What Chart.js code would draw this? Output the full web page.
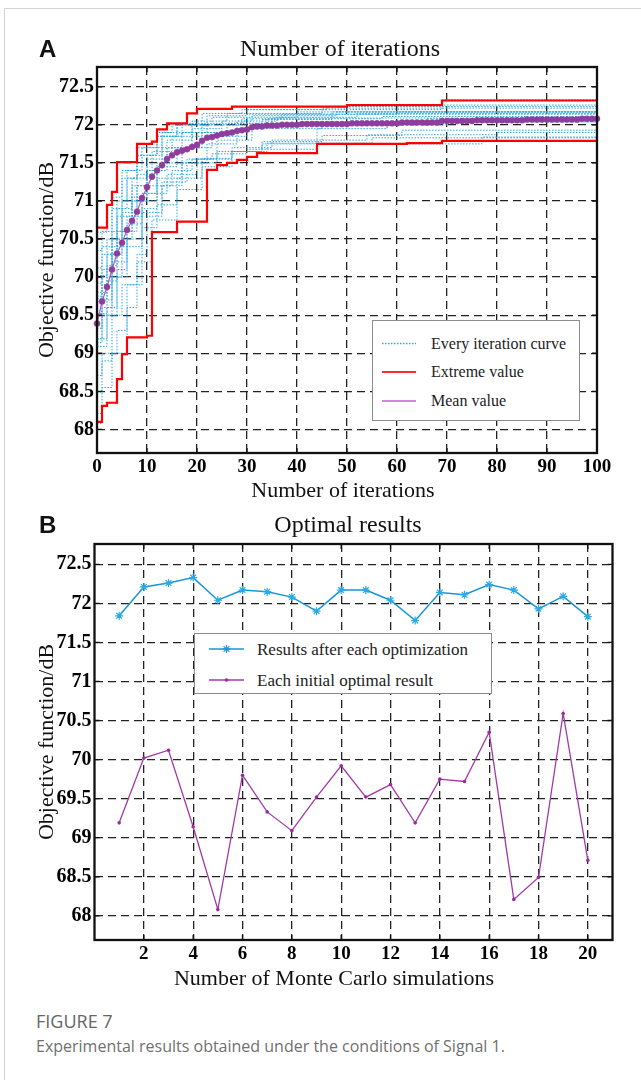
<!DOCTYPE html>
<html><head><meta charset="utf-8">
<script src="https://cdn.jsdelivr.net/npm/chart.js@4.4.1/dist/chart.umd.min.js"></script>
<style>
html,body{margin:0;padding:0;background:#fff;}
#page{position:relative;width:641px;height:1080px;overflow:hidden;background:#fff;}
.card{position:absolute;left:4px;top:8px;width:700px;height:1100px;border-left:1px solid #d4d4d4;border-top:1px solid #d4d4d4;}
canvas{position:absolute;left:0;}
.t{position:absolute;white-space:nowrap;font-family:"Liberation Serif","Times New Roman",serif;color:#111;line-height:1;transform:translate(-50%,-50%);}
.letter{position:absolute;font-family:"Liberation Sans",Arial,sans-serif;font-weight:bold;font-size:24px;line-height:1;color:#111;}
.legend{position:absolute;border:1px solid #8c8c8c;background:#fff;box-sizing:border-box;}
.lrow{position:absolute;left:0;height:0;}
.ltext{position:absolute;white-space:nowrap;font-family:"Liberation Serif","Times New Roman",serif;color:#222;line-height:1;transform:translateY(-50%);}
.sample{position:absolute;}
.cap1{position:absolute;left:36px;top:1010px;font-family:"Open Sans",sans-serif;font-size:18px;line-height:22px;color:#666;}
.cap2{position:absolute;left:36px;top:1036px;font-family:"Open Sans",sans-serif;font-size:16px;line-height:20px;color:#707070;}
</style>
</head>
<body>
<div id="page">
  <div class="card"></div>
  <canvas id="chartA" width="641" height="510" style="top:0px"></canvas>
  <canvas id="chartB" width="641" height="490" style="top:510px"></canvas>

  <div class="letter" style="left:39px;top:37px;">A</div>
  <div class="t" style="left:340px;top:48px;font-size:24px;">Number of iterations</div>
  <div class="t" style="left:343px;top:490px;font-size:22px;">Number of iterations</div>

  <div class="letter" style="left:39px;top:513px;">B</div>
  <div class="t" style="left:348px;top:524px;font-size:24px;">Optimal results</div>
  <div class="t" style="left:334px;top:978px;font-size:22px;">Number of Monte Carlo simulations</div>

  <div class="legend" style="left:372px;top:320px;width:208px;height:101px;">
    <svg class="sample" style="left:8px;top:0px" width="36" height="100">
      <line x1="1" y1="22.5" x2="35" y2="22.5" stroke="#2aa7e0" stroke-width="1.4" stroke-dasharray="1.5,1.5"/>
      <line x1="1" y1="51" x2="35" y2="51" stroke="#ff2a2a" stroke-width="2"/>
      <line x1="1" y1="80" x2="35" y2="80" stroke="#c060c8" stroke-width="1.6"/>
    </svg>
    <div class="ltext" style="left:58px;top:22.5px;font-size:16px;">Every iteration curve</div>
    <div class="ltext" style="left:58px;top:51px;font-size:16px;">Extreme value</div>
    <div class="ltext" style="left:58px;top:80px;font-size:16px;">Mean value</div>
  </div>

  <div class="legend" style="left:194px;top:633px;width:298px;height:61px;">
    <svg class="sample" style="left:13px;top:0px" width="38" height="60">
      <line x1="1" y1="15" x2="36" y2="15" stroke="#1a96d8" stroke-width="1.5"/>
      <g stroke="#1a96d8" stroke-width="1.2">
        <line x1="14.5" y1="15" x2="22.5" y2="15"/><line x1="18.5" y1="11" x2="18.5" y2="19"/>
        <line x1="15.6" y1="12.1" x2="21.4" y2="17.9"/><line x1="15.6" y1="17.9" x2="21.4" y2="12.1"/>
      </g>
      <line x1="1" y1="46" x2="36" y2="46" stroke="#a03aa6" stroke-width="1.3"/>
      <circle cx="18.5" cy="46" r="1.8" fill="#9a2a9e"/>
    </svg>
    <div class="ltext" style="left:62px;top:15px;font-size:17px;">Results after each optimization</div>
    <div class="ltext" style="left:62px;top:46px;font-size:17px;">Each initial optimal result</div>
  </div>

  <div class="cap1">FIGURE 7</div>
  <div class="cap2">Experimental results obtained under the conditions of Signal 1.</div>
</div>

<script>
// ---------- Panel A data ----------
const xTicksA = [0, 10, 20, 30, 40, 50, 60, 70, 80, 90, 100];
const yTicks = [68, 68.5, 69, 69.5, 70, 70.5, 71, 71.5, 72, 72.5];

const iterations = Array.from({length: 101}, (_, i) => i);
const meanValue = [
  69.39, 69.68, 69.87, 70.10, 70.31, 70.45, 70.62, 70.74, 70.86, 71.04,
  71.18, 71.32, 71.40, 71.47, 71.55, 71.60, 71.64, 71.66, 71.68, 71.71,
  71.74, 71.79, 71.83, 71.84, 71.86, 71.88, 71.89, 71.90, 71.92, 71.93,
  71.94, 71.97, 71.98, 71.98, 71.99, 71.99, 71.99, 72.00, 72.00, 72.00,
  72.00, 72.01, 72.01, 72.01, 72.01, 72.01, 72.01, 72.01, 72.01, 72.01,
  72.01, 72.02, 72.02, 72.02, 72.02, 72.02, 72.02, 72.02, 72.02, 72.02,
  72.02, 72.03, 72.03, 72.03, 72.03, 72.03, 72.03, 72.03, 72.03, 72.05,
  72.05, 72.05, 72.05, 72.05, 72.05, 72.05, 72.06, 72.06, 72.06, 72.06,
  72.06, 72.06, 72.06, 72.06, 72.06, 72.06, 72.07, 72.07, 72.07, 72.07,
  72.07, 72.07, 72.07, 72.07, 72.07, 72.07, 72.07, 72.08, 72.08, 72.08,
  72.08
];

// extreme value envelopes: [iteration where the step happens, value]
const extremeUpper = [[0,70.65],[2,70.95],[3,71.12],[4,71.51],[8,71.75],[11,71.78],[12,71.94],[14,72.02],[18,72.15],[20,72.21],[27,72.24],[50,72.26],[69,72.32],[100,72.32]];
const extremeLower = [[0,68.10],[1,68.31],[2,68.35],[4,68.66],[5,68.99],[6,69.21],[10,69.23],[11,70.59],[16,70.73],[22,71.41],[24,71.47],[26,71.50],[28,71.54],[30,71.58],[32,71.63],[44,71.75],[62,71.76],[69,71.79],[100,71.79]];

// every iteration curve (one per Monte Carlo run), step points [iteration, value]
const run01 = [[0,69.19],[1,69.5],[3,70.0],[5,70.6],[8,71.0],[12,71.3],[17,71.5],[24,71.65],[33,71.75],[77,71.84]];
const run02 = [[0,70.02],[2,70.5],[4,71.0],[6,71.4],[9,71.7],[13,71.9],[19,72.05],[26,72.15],[45,72.22]];
const run03 = [[0,70.12],[1,70.4],[3,70.9],[5,71.3],[8,71.6],[12,71.85],[16,72.0],[22,72.12],[30,72.2],[69,72.26]];
const run04 = [[0,69.14],[1,69.6],[3,70.3],[5,70.9],[7,71.3],[10,71.6],[13,71.85],[16,72.0],[18,72.15],[20,72.21],[27,72.24],[50,72.26],[69,72.33]];
const run05 = [[0,68.08],[1,68.31],[2,68.35],[4,68.66],[5,68.99],[6,69.21],[10,69.23],[11,70.59],[16,70.73],[22,71.41],[24,71.47],[26,71.50],[28,71.54],[30,71.58],[32,71.63],[44,71.95],[58,72.04]];
const run06 = [[0,69.80],[2,70.3],[4,70.8],[7,71.2],[10,71.55],[14,71.8],[19,71.95],[25,72.05],[31,72.12],[48,72.17]];
const run07 = [[0,69.33],[1,69.7],[3,70.2],[6,70.7],[9,71.1],[12,71.45],[16,71.7],[21,71.9],[28,72.05],[36,72.1],[52,72.15]];
const run08 = [[0,69.09],[2,69.5],[4,70.0],[6,70.4],[9,70.85],[13,71.25],[18,71.55],[24,71.8],[31,71.98],[41,72.04],[66,72.08]];
const run09 = [[0,69.52],[1,69.9],[3,70.4],[6,70.8],[9,71.1],[14,71.35],[20,71.55],[27,71.7],[35,71.8],[54,71.87],[80,71.90]];
const run10 = [[0,69.92],[1,70.3],[4,70.9],[6,71.3],[8,71.6],[12,71.85],[17,72.0],[23,72.1],[30,72.14],[60,72.17]];
const run11 = [[0,69.52],[2,69.95],[4,70.5],[7,71.0],[10,71.4],[13,71.7],[17,71.9],[22,72.0],[30,72.1],[40,72.17]];
const run12 = [[0,69.68],[1,70.0],[3,70.5],[5,70.85],[8,71.2],[12,71.5],[17,71.7],[23,71.85],[30,71.95],[45,72.0],[70,72.04]];
const run13 = [[0,69.19],[2,69.6],[4,70.1],[6,70.5],[9,70.9],[12,71.2],[15,71.4],[19,71.55],[23,71.62],[30,71.68],[44,71.75],[62,71.76],[69,71.78]];
const run14 = [[0,69.75],[1,70.1],[3,70.6],[5,71.0],[8,71.35],[11,71.65],[15,71.85],[21,72.0],[29,72.08],[37,72.14]];
const run15 = [[0,69.72],[2,70.15],[4,70.6],[7,71.05],[10,71.4],[14,71.7],[19,71.9],[26,72.02],[34,72.08],[57,72.11]];
const run16 = [[0,70.35],[1,70.6],[3,71.05],[5,71.4],[8,71.7],[12,71.9],[15,72.0],[21,72.15],[29,72.2],[46,72.24]];
const run17 = [[0,68.21],[1,68.9],[3,69.5],[5,69.9],[8,70.3],[10,70.8],[13,71.2],[17,71.5],[22,71.75],[28,71.95],[33,72.07],[47,72.17]];
const run18 = [[0,68.49],[1,68.55],[3,69.0],[6,69.6],[8,70.2],[11,70.75],[16,71.15],[21,71.45],[27,71.65],[33,71.78],[45,71.86],[61,71.93]];
const run19 = [[0,70.59],[2,70.95],[3,71.12],[4,71.51],[8,71.75],[11,71.78],[12,71.94],[14,72.02],[35,72.09]];
const run20 = [[0,68.71],[1,69.0],[4,69.3],[6,69.9],[9,70.65],[12,70.95],[16,71.3],[21,71.56],[27,71.65],[34,71.76],[55,71.83]];
const runs = [run01,run02,run03,run04,run05,run06,run07,run08,run09,run10,run11,run12,run13,run14,run15,run16,run17,run18,run19,run20];

// ---------- Panel B data ----------
const simulations = [1,2,3,4,5,6,7,8,9,10,11,12,13,14,15,16,17,18,19,20];
const xTicksB = [2,4,6,8,10,12,14,16,18,20];
const resultsAfterOptimization = [71.84,72.21,72.26,72.33,72.04,72.17,72.15,72.08,71.90,72.17,72.17,72.04,71.78,72.14,72.11,72.24,72.17,71.93,72.09,71.83];
const initialOptimalResults = [69.19,70.02,70.12,69.14,68.08,69.80,69.33,69.09,69.52,69.92,69.52,69.68,69.19,69.75,69.72,70.35,68.21,68.49,70.59,68.71];

// ---------- styling helpers ----------
const SERIF = '"Liberation Serif","Times New Roman",serif';
const tickFont = {family: SERIF, weight: 'bold', size: 20};
const Y_MIN = 67.69, Y_MAX = 72.76;

const frameTicks = {
  id: 'frameTicks',
  afterDraw(chart) {
    const {ctx, chartArea: a, scales} = chart;
    ctx.save();
    ctx.setLineDash([]);
    ctx.strokeStyle = '#111';
    ctx.lineWidth = 1.3;
    const L = 5;
    ctx.beginPath();
    scales.x.ticks.forEach(t => {
      const px = scales.x.getPixelForValue(t.value);
      ctx.moveTo(px, a.bottom); ctx.lineTo(px, a.bottom - L);
      ctx.moveTo(px, a.top); ctx.lineTo(px, a.top + L);
    });
    scales.y.ticks.forEach(t => {
      const py = scales.y.getPixelForValue(t.value);
      ctx.moveTo(a.left, py); ctx.lineTo(a.left + L, py);
      ctx.moveTo(a.right, py); ctx.lineTo(a.right - L, py);
    });
    ctx.stroke();
    ctx.lineWidth = 2.3;
    ctx.strokeRect(a.left, a.top, a.right - a.left, a.bottom - a.top);
    ctx.restore();
  }
};

function yScale(width, titlePadTop) {
  return {
    type: 'linear', min: Y_MIN, max: Y_MAX,
    afterBuildTicks: s => { s.ticks = yTicks.map(v => ({value: v})); },
    afterFit: s => { s.width = width; },
    grid: {color: '#222', lineWidth: 1.3, drawTicks: false},
    border: {display: false, dash: [8, 5]},
    ticks: {padding: 3, color: '#000', font: tickFont, callback: v => String(v)},
    title: {display: true, text: 'Objective function/dB', color: '#111',
            font: {family: SERIF, size: 22, lineHeight: 1.2}, padding: {top: titlePadTop, bottom: 0}}
  };
}
function xScale(min, max, ticks, height) {
  return {
    type: 'linear', min: min, max: max,
    afterBuildTicks: s => { s.ticks = ticks.map(v => ({value: v})); },
    afterFit: s => { s.height = height; },
    grid: {color: '#222', lineWidth: 1.3, drawTicks: false},
    border: {display: false, dash: [8, 5]},
    ticks: {padding: 3, color: '#000', font: {family: SERIF, weight: 'bold', size: 19}, maxRotation: 0, autoSkip: false, callback: v => String(v)}
  };
}
const toXY = arr => arr.map(p => ({x: p[0], y: p[1]}));
const extend = arr => { const pts = toXY(arr); const last = pts[pts.length - 1]; if (last.x < 100) pts.push({x: 100, y: last.y}); return pts; };

// ---------- Chart A ----------
const dsA = [];
dsA.push({label: 'Mean value', data: iterations.map((it, i) => ({x: it, y: meanValue[i]})),
  borderColor: '#b05ac0', borderWidth: 1.2, pointRadius: 3, pointBackgroundColor: '#8e3c9e',
  pointBorderColor: '#8e3c9e', pointBorderWidth: 0.5, clip: false, order: 0});
dsA.push({label: 'Extreme value', data: toXY(extremeUpper), stepped: 'before', borderColor: '#ff0000', borderWidth: 2.2, pointRadius: 0, order: 1});
dsA.push({label: 'Extreme value lower', data: toXY(extremeLower), stepped: 'before', borderColor: '#ff0000', borderWidth: 2.2, pointRadius: 0, order: 1});
runs.forEach((r, i) => dsA.push({label: 'run' + (i + 1), data: extend(r), stepped: 'before',
  borderColor: '#2ba6df', borderWidth: 1, borderDash: [1.5, 1.5], pointRadius: 0, order: 2}));

new Chart(document.getElementById('chartA'), {
  type: 'line',
  data: {datasets: dsA},
  options: {
    responsive: false, animation: false, devicePixelRatio: 1,
    layout: {padding: {left: 0, top: 67, right: 44, bottom: 0}},
    plugins: {legend: {display: false}, tooltip: {enabled: false}, title: {display: false}},
    scales: {x: xScale(0, 100, xTicksA, 57), y: yScale(97, 34)}
  },
  plugins: [frameTicks]
});

// ---------- Chart B ----------
new Chart(document.getElementById('chartB'), {
  type: 'line',
  data: {datasets: [
    {label: 'Results after each optimization', data: simulations.map((s, i) => ({x: s, y: resultsAfterOptimization[i]})),
     borderColor: '#1a96d8', borderWidth: 1.5, pointStyle: 'star', pointRadius: 4,
     pointBorderColor: '#29a9e6', pointBorderWidth: 1.2, pointBackgroundColor: '#29a9e6'},
    {label: 'Each initial optimal result', data: simulations.map((s, i) => ({x: s, y: initialOptimalResults[i]})),
     borderColor: '#a03aa6', borderWidth: 1.3, pointStyle: 'circle', pointRadius: 1.8,
     pointBorderWidth: 0, pointBackgroundColor: '#9a2a9e'}
  ]},
  options: {
    responsive: false, animation: false, devicePixelRatio: 1,
    layout: {padding: {left: 0, top: 34, right: 28.5, bottom: 0}},
    plugins: {legend: {display: false}, tooltip: {enabled: false}, title: {display: false}},
    scales: {x: xScale(0, 21, xTicksB, 60), y: yScale(94.5, 34)}
  },
  plugins: [frameTicks]
});
</script>
</body></html>
